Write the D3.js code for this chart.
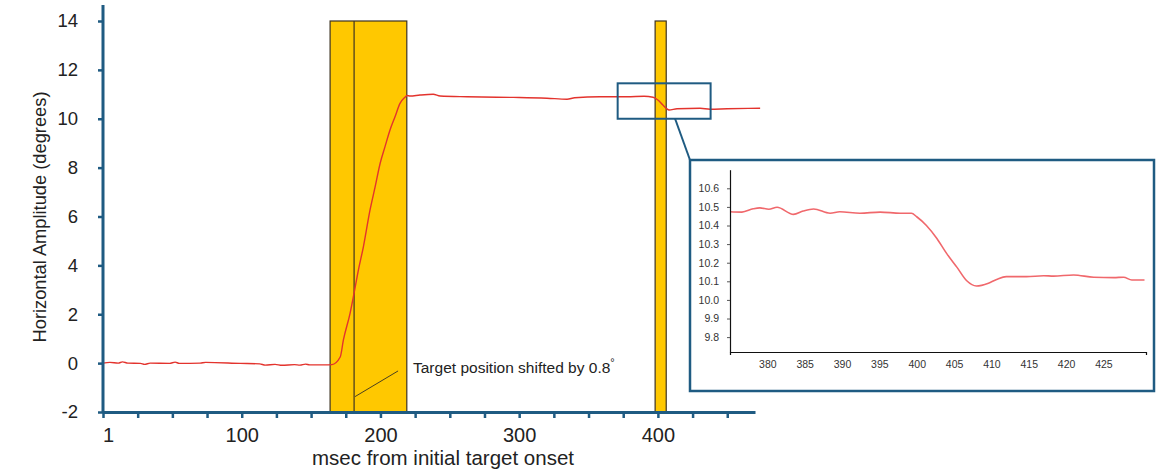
<!DOCTYPE html>
<html>
<head>
<meta charset="utf-8">
<script src="https://cdn.jsdelivr.net/npm/d3@7"></script>
<style>
  body { margin: 0; background: #fff; }
  text { font-family: Arial, "Liberation Sans", sans-serif; }
</style>
</head>
<body>
<div id="chart"></div>
<script>
// main trace: msec from target onset vs horizontal amplitude (deg)
const mainT = [0, 5, 11, 14, 18, 27, 30, 34, 48, 52, 55, 70, 74, 99, 113, 117, 124, 129, 138, 142, 146, 149, 160, 165,
  171, 173.3, 178.1, 180.5, 184.1, 187.7, 192.5, 196.2, 199.8, 203.3, 206.9, 210.5, 214.1, 217.7,
  219.2, 221.3, 228.5, 238, 243, 262.4, 284, 300, 320, 334.5, 340, 358.3, 377.8, 390, 396.5,
  400, 403.6, 408, 413.8, 430.4, 437.6, 449.9, 473.7];
const mainAmp = [0.0, 0.03, 0.0, 0.05, 0.0, -0.01, -0.05, 0.0, -0.01, 0.04, -0.01, 0.0, 0.03, -0.01, -0.03, -0.08, -0.05, -0.09, -0.06, -0.08, -0.04, -0.07, -0.07, -0.06,
  0.25, 0.95, 2.04, 2.72, 3.81, 4.76, 6.27, 7.22, 8.18, 8.86, 9.54, 10.08, 10.63, 10.88,
  10.95, 10.93, 10.97, 11.0, 10.93, 10.9, 10.88, 10.87, 10.84, 10.8, 10.86, 10.9, 10.9, 10.92, 10.88,
  10.77, 10.56, 10.36, 10.41, 10.43, 10.39, 10.41, 10.43];

// zoomed inset trace
const insetT = [375, 376.6, 378.1, 379, 380.2, 381.3, 383.5, 384.8, 386.2, 388.4, 389.7, 392.4, 395.1, 397.8, 399.3,
  400, 401.3, 402.7, 404, 405.4, 406.7, 408, 409.6, 410.7, 412, 414.7, 417, 418.3, 421, 423.7, 426.4, 427.7, 428.8, 430.5];
const insetAmp = [10.474, 10.472, 10.49, 10.495, 10.487, 10.498, 10.46, 10.478, 10.489, 10.466, 10.474, 10.466, 10.472, 10.466, 10.466,
  10.447, 10.40, 10.33, 10.25, 10.175, 10.103, 10.075, 10.09, 10.11, 10.125, 10.125, 10.13, 10.128, 10.134, 10.122, 10.12, 10.122, 10.107, 10.107];

// shaded intervals (msec) and marker line
const bands = [[163.7, 219], [398, 406]];
const shiftMarker = 181;
const zoomWindow = { t: [371, 438], amp: [10.0, 11.45] };

// ticks
const mainXTicks = d3.range(0, 451, 25);
const mainYTicks = [-2, 0, 2, 4, 6, 8, 10, 12, 14];
const insetXTicks = [380, 385, 390, 395, 400, 405, 410, 415, 420, 425];
const insetYTicks = [9.8, 9.9, 10.0, 10.1, 10.2, 10.3, 10.4, 10.5, 10.6];

const width = 1164, height = 470;
const axisColor = "#1f5b82";

const svg = d3.select("#chart").append("svg")
  .attr("width", width)
  .attr("height", height);

const x = d3.scaleLinear().domain([0, 470]).range([103, 755]);
const y = d3.scaleLinear().domain([-2, 14]).range([412, 21]);

// Bands
bands.forEach(b => {
  svg.append("rect")
    .attr("x", x(b[0]))
    .attr("y", y(14))
    .attr("width", x(b[1]) - x(b[0]))
    .attr("height", y(-2) - y(14))
    .attr("fill", "#ffc800")
    .attr("stroke", "#3d3322")
    .attr("stroke-width", 1.2);
});
svg.append("line")
  .attr("x1", x(shiftMarker)).attr("x2", x(shiftMarker))
  .attr("y1", y(14)).attr("y2", y(-2))
  .attr("stroke", "#3d3322")
  .attr("stroke-width", 1.2);

// Trace
const mainData = mainT.map((t, i) => ({t, a: mainAmp[i]}));
svg.append("path")
  .datum(mainData)
  .attr("fill", "none")
  .attr("stroke", "#e3332d")
  .attr("stroke-width", 1.4)
  .attr("d", d3.line().x(d => x(d.t)).y(d => y(d.a)).curve(d3.curveMonotoneX));

// Annotation
svg.append("line")
  .attr("x1", x(181.7)).attr("y1", y(-1.37))
  .attr("x2", x(212.7)).attr("y2", y(-0.32))
  .attr("stroke", "#4a4020")
  .attr("stroke-width", 1);
const ann = svg.append("text")
  .attr("x", 413)
  .attr("y", 373)
  .attr("font-size", "15.5px")
  .attr("fill", "#222")
  .text("Target position shifted by 0.8");
ann.append("tspan")
  .attr("dy", -7)
  .attr("font-size", "11px")
  .text("°");

// Axes
const xAxis = svg.append("g")
  .attr("transform", `translate(0,${y(-2)})`)
  .call(d3.axisBottom(x).tickValues(mainXTicks).tickSize(6).tickSizeOuter(0)
    .tickFormat(d => d === 0 ? "1" : (d % 100 === 0 ? d : "")));
xAxis.select(".domain").attr("stroke", axisColor).attr("stroke-width", 3);
xAxis.selectAll(".tick line").attr("stroke", axisColor).attr("stroke-width", 2.5);
xAxis.selectAll(".tick text")
  .attr("font-size", "20px")
  .attr("fill", "#222")
  .attr("dy", "1.05em")
  .attr("dx", d => d === 0 ? 5 : 0);

const yAxis = svg.append("g")
  .attr("transform", `translate(${x(0)},0)`)
  .call(d3.axisLeft(y).tickValues(mainYTicks).tickSize(5).tickSizeOuter(0).tickPadding(20)
    .tickFormat(d => String(d)));
yAxis.select(".domain").remove();
yAxis.append("line")
  .attr("y1", y(-2)).attr("y2", y(14.65))
  .attr("stroke", axisColor).attr("stroke-width", 3);
yAxis.selectAll(".tick line").attr("stroke", axisColor).attr("stroke-width", 2.5);
yAxis.selectAll(".tick text").attr("font-size", "18.5px").attr("fill", "#222");

// Axis labels
svg.append("text")
  .attr("x", 443)
  .attr("y", 465)
  .attr("text-anchor", "middle")
  .attr("font-size", "20.5px")
  .attr("fill", "#222")
  .text("msec from initial target onset");

svg.append("text")
  .attr("transform", "rotate(-90)")
  .attr("x", -217)
  .attr("y", 46)
  .attr("text-anchor", "middle")
  .attr("font-size", "18.3px")
  .attr("fill", "#222")
  .text("Horizontal Amplitude (degrees)");

// Zoom window on main chart
svg.append("rect")
  .attr("x", x(zoomWindow.t[0]))
  .attr("y", y(zoomWindow.amp[1]))
  .attr("width", x(zoomWindow.t[1]) - x(zoomWindow.t[0]))
  .attr("height", y(zoomWindow.amp[0]) - y(zoomWindow.amp[1]))
  .attr("fill", "none")
  .attr("stroke", axisColor)
  .attr("stroke-width", 2);

// Inset box
const box = {x: 690, y: 160, w: 464, h: 231};
svg.append("line")
  .attr("x1", x(412.4)).attr("y1", y(zoomWindow.amp[0]))
  .attr("x2", box.x).attr("y2", box.y)
  .attr("stroke", axisColor)
  .attr("stroke-width", 2);
svg.append("rect")
  .attr("x", box.x).attr("y", box.y)
  .attr("width", box.w).attr("height", box.h)
  .attr("fill", "#fff")
  .attr("stroke", axisColor)
  .attr("stroke-width", 2.5);

const xi = d3.scaleLinear().domain([375, 430.7]).range([730, 1146]);
const yi = d3.scaleLinear().domain([9.72, 10.7]).range([352, 169.7]);

const insetData = insetT.map((t, i) => ({t, a: insetAmp[i]}));
svg.append("path")
  .datum(insetData)
  .attr("fill", "none")
  .attr("stroke", "#f0686c")
  .attr("stroke-width", 1.6)
  .attr("d", d3.line().x(d => xi(d.t)).y(d => yi(d.a)).curve(d3.curveMonotoneX));

const xiAxis = svg.append("g")
  .attr("transform", `translate(0,${yi(9.72)})`)
  .call(d3.axisBottom(xi).tickValues(insetXTicks).tickSize(0).tickSizeOuter(3).tickPadding(9));
xiAxis.select(".domain").attr("stroke", "#111").attr("stroke-width", 1.2);
xiAxis.selectAll(".tick text").attr("font-size", "10.5px").attr("fill", "#333");

const yiAxis = svg.append("g")
  .attr("transform", `translate(${xi(375)},0)`)
  .call(d3.axisLeft(yi).tickValues(insetYTicks).tickSize(3).tickSizeOuter(0).tickPadding(8)
    .tickFormat(d3.format(".1f")));
yiAxis.select(".domain").attr("stroke", "#111").attr("stroke-width", 1.2);
yiAxis.selectAll(".tick line").attr("stroke", "#555");
yiAxis.selectAll(".tick text").attr("font-size", "10.5px").attr("fill", "#333");
</script>
</body>
</html>
